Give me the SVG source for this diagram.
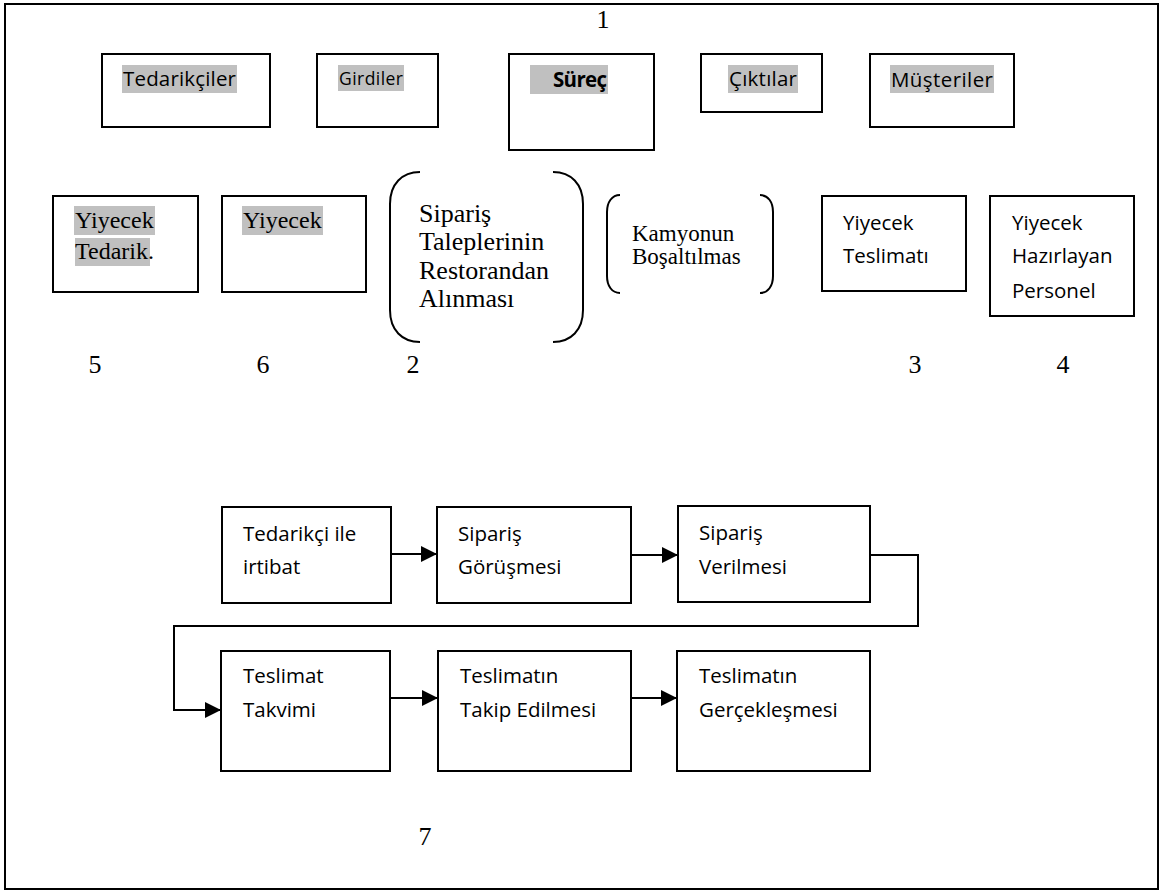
<svg xmlns="http://www.w3.org/2000/svg" width="1163" height="892" viewBox="0 0 1163 892">
  <defs>
    <marker id="arrow" viewBox="0 0 16 16" refX="16" refY="8" markerWidth="16" markerHeight="16" markerUnits="userSpaceOnUse" orient="auto">
      <path d="M0,0 L16,8 L0,16 Z" fill="#000"/>
    </marker>
  </defs>
  <style>
    .box { fill: #fff; stroke: #000; stroke-width: 2; }
    .brace { fill: none; stroke: #000; stroke-width: 2; }
    .hl { fill: #c0c0c0; }
    .sans { font-family: "Open Sans", Lato, "Liberation Sans", sans-serif; fill: #000; }
    .serif { font-family: "Liberation Serif", "Times New Roman", serif; fill: #000; }
    .head { font-size: 20.5px; }
    .lbl { font-size: 20.5px; }
    .num { font-size: 26px; }
    .conn { fill: none; stroke: #000; stroke-width: 2; }
  </style>

  <rect x="5" y="4" width="1153" height="885" fill="#fff" stroke="#000" stroke-width="2"/>

  <!-- header row -->
  <g id="tedarikciler">
    <rect class="box" x="102" y="54" width="168" height="73"/>
    <rect class="hl" x="122" y="65" width="115" height="28"/>
    <text class="sans head" x="123" y="86" textLength="113">Tedarikçiler</text>
  </g>
  <g id="girdiler">
    <rect class="box" x="317" y="54" width="121" height="73"/>
    <rect class="hl" x="338" y="65" width="66" height="26"/>
    <text class="sans" font-size="17.5" x="339" y="85" textLength="64">Girdiler</text>
  </g>
  <g id="surec">
    <rect class="box" x="509" y="54" width="145" height="96"/>
    <rect class="hl" x="530" y="65" width="78" height="29"/>
    <text class="sans head" font-weight="bold" x="553" y="87" textLength="54">Süreç</text>
  </g>
  <g id="ciktilar">
    <rect class="box" x="701" y="54" width="121" height="58"/>
    <rect class="hl" x="728" y="65" width="70" height="28"/>
    <text class="sans head" x="729" y="86" textLength="68">Çıktılar</text>
  </g>
  <g id="musteriler">
    <rect class="box" x="870" y="54" width="144" height="73"/>
    <rect class="hl" x="890" y="65" width="104" height="28"/>
    <text class="sans head" x="891" y="87" textLength="102">Müşteriler</text>
  </g>

  <!-- second row -->
  <g id="yiyecek-tedarik">
    <rect class="box" x="53" y="196" width="145" height="96"/>
    <rect class="hl" x="74" y="206" width="81" height="29"/>
    <rect class="hl" x="75" y="238" width="75" height="28"/>
    <text class="serif" font-size="24" x="75" y="228">Yiyecek</text>
    <text class="serif" font-size="24" x="75" y="259">Tedarik.</text>
  </g>
  <g id="yiyecek">
    <rect class="box" x="222" y="196" width="144" height="96"/>
    <rect class="hl" x="242" y="206" width="81" height="29"/>
    <text class="serif" font-size="24" x="243" y="228">Yiyecek</text>
  </g>
  <g id="siparis-talepleri">
    <path class="brace" d="M420,172 C402,172 390,184 390,204 L390,310 C390,330 402,342 420,342"/>
    <path class="brace" d="M553,172 C571,172 583,184 583,204 L583,310 C583,330 571,342 553,342"/>
    <text class="serif" font-size="26" x="419" y="222">Sipariş</text>
    <text class="serif" font-size="26" x="419" y="250">Taleplerinin</text>
    <text class="serif" font-size="26" x="419" y="279">Restorandan</text>
    <text class="serif" font-size="26" x="419" y="307">Alınması</text>
  </g>
  <g id="kamyon">
    <path class="brace" d="M620,195 C612,195 607,202 607,212 L607,276 C607,286 612,293 620,293"/>
    <path class="brace" d="M760,195 C768,195 773,202 773,212 L773,276 C773,286 768,293 760,293"/>
    <text class="serif" font-size="23" x="632" y="241">Kamyonun</text>
    <text class="serif" font-size="23" x="632" y="264">Boşaltılmas</text>
  </g>
  <g id="yiyecek-teslimati">
    <rect class="box" x="822" y="196" width="144" height="95"/>
    <text class="sans lbl" x="843" y="230">Yiyecek</text>
    <text class="sans lbl" x="843" y="263">Teslimatı</text>
  </g>
  <g id="personel">
    <rect class="box" x="990" y="196" width="144" height="120"/>
    <text class="sans lbl" x="1012" y="230">Yiyecek</text>
    <text class="sans lbl" x="1012" y="263">Hazırlayan</text>
    <text class="sans lbl" x="1012" y="298">Personel</text>
  </g>

  <!-- reference numbers -->
  <g id="numbers" class="serif num" text-anchor="middle">
    <text x="603" y="28">1</text>
    <text x="95" y="373">5</text>
    <text x="263" y="373">6</text>
    <text x="413" y="373">2</text>
    <text x="915" y="373">3</text>
    <text x="1063" y="373">4</text>
    <text x="425" y="845">7</text>
  </g>

  <!-- process flow connectors -->
  <g id="connectors">
    <path class="conn" d="M391,554 L437,554" marker-end="url(#arrow)"/>
    <path class="conn" d="M631,555 L678,555" marker-end="url(#arrow)"/>
    <path class="conn" d="M870,555 L918,555 L918,626 L174,626 L174,710 L221,710" marker-end="url(#arrow)"/>
    <path class="conn" d="M390,698 L438,698" marker-end="url(#arrow)"/>
    <path class="conn" d="M631,698 L677,698" marker-end="url(#arrow)"/>
  </g>

  <!-- process flow steps -->
  <g id="step-irtibat">
    <rect class="box" x="222" y="507" width="169" height="96"/>
    <text class="sans lbl" x="243" y="541">Tedarikçi ile</text>
    <text class="sans lbl" x="243" y="574">irtibat</text>
  </g>
  <g id="step-gorusme">
    <rect class="box" x="437" y="507" width="194" height="96"/>
    <text class="sans lbl" x="458" y="541">Sipariş</text>
    <text class="sans lbl" x="458" y="574">Görüşmesi</text>
  </g>
  <g id="step-verilme">
    <rect class="box" x="678" y="506" width="192" height="96"/>
    <text class="sans lbl" x="699" y="540">Sipariş</text>
    <text class="sans lbl" x="699" y="574">Verilmesi</text>
  </g>
  <g id="step-takvim">
    <rect class="box" x="221" y="651" width="169" height="120"/>
    <text class="sans lbl" x="243" y="683">Teslimat</text>
    <text class="sans lbl" x="243" y="717">Takvimi</text>
  </g>
  <g id="step-takip">
    <rect class="box" x="438" y="651" width="193" height="120"/>
    <text class="sans lbl" x="460" y="683">Teslimatın</text>
    <text class="sans lbl" x="460" y="717">Takip Edilmesi</text>
  </g>
  <g id="step-gerceklesme">
    <rect class="box" x="677" y="651" width="193" height="120"/>
    <text class="sans lbl" x="699" y="683">Teslimatın</text>
    <text class="sans lbl" x="699" y="717">Gerçekleşmesi</text>
  </g>
</svg>
